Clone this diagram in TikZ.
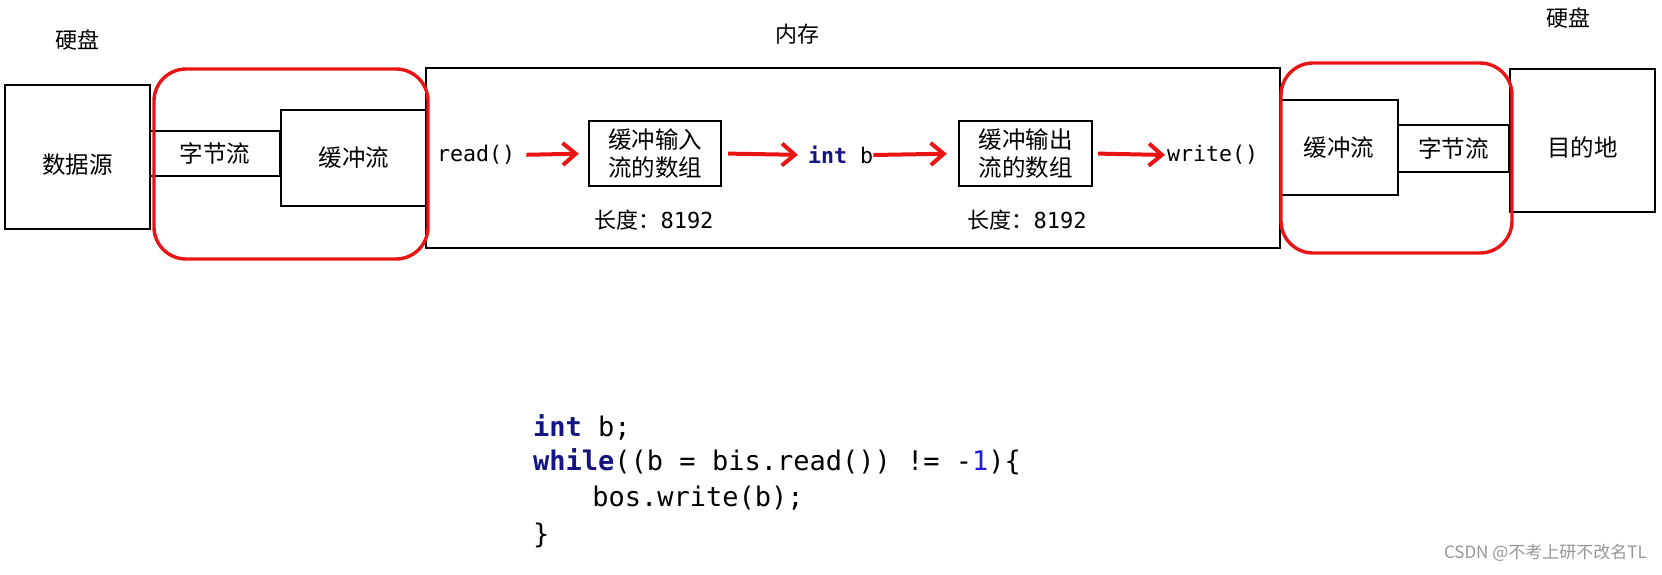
\documentclass[tikz,border=0pt]{standalone}
\usepackage{fontspec}
\setmainfont{Noto Sans CJK SC}
\newfontfamily\cjk{Noto Sans CJK SC}
\newfontfamily\mono{DejaVu Sans Mono}
\usetikzlibrary{arrows.meta}
\definecolor{rred}{RGB}{235,20,20}
\definecolor{kw}{RGB}{20,20,130}
\definecolor{num}{RGB}{30,30,220}
\definecolor{wmgray}{RGB}{150,150,150}
\begin{document}
\begin{tikzpicture}[x=1pt,y=-1pt,
  box/.style={draw=black, line width=2.3pt, inner sep=0pt, font=\cjk\fontsize{23.5}{28}\selectfont, align=center},
  grp/.style={draw=rred, line width=3.4pt, rounded corners=32pt, inner sep=0pt},
  lbl/.style={inner sep=0pt, font=\cjk\fontsize{22}{26}\selectfont},
  mtxt/.style={inner sep=0pt, anchor=west, font=\mono\fontsize{21.6}{26}\selectfont},
  codeline/.style={inner sep=0pt, anchor=west, font=\mono\fontsize{27}{36}\selectfont},
  arr/.style={draw=rred, line width=4pt, -{Straight Barb[length=13pt,width=22pt]}}
]
\useasboundingbox (0,0) rectangle (1662,574);
\fill[white] (0,0) rectangle (1662,574);

% titles
\node[lbl] (hd1) at (77,40) {硬盘};
\node[lbl] (hd2) at (1568,18) {硬盘};
\node[lbl] (memt) at (797,34) {内存};

% left side
\node[box, minimum width=145pt, minimum height=144pt] (src) at (77.5,157) {\raisebox{0pt}[34pt][2pt]{数据源}};
\node[box, minimum width=130pt, minimum height=45pt] (lbyte) at (215,153.5) {字节流};
\node[box, minimum width=146pt, minimum height=96pt] (lbuf) at (354,158) {缓冲流};

% memory
\node[draw=black, line width=2.3pt, inner sep=0pt, minimum width=854pt, minimum height=180pt] (mem) at (853,158) {};

% right side
\node[box, minimum width=118pt, minimum height=95pt] (rbuf) at (1339,147.5) {缓冲流};
\node[box, minimum width=111pt, minimum height=47pt] (rbyte) at (1453.5,148.5) {字节流};
\node[box, minimum width=145pt, minimum height=143pt] (dst) at (1582.5,140.5) {\raisebox{0pt}[34pt][2pt]{目的地}};

% inside memory
\node[mtxt] (rd) at (437,155) {read()};
\node[box, minimum width=132pt, minimum height=65pt] (inbuf) at (655,153.5) {缓冲输入\\流的数组};
\node[mtxt] (ib) at (808,155) {\textcolor{kw}{\bfseries int} b};
\node[box, minimum width=133pt, minimum height=65pt] (outbuf) at (1025.5,153.5) {缓冲输出\\流的数组};
\node[mtxt] (wr) at (1167,155) {write()};
\node[lbl] (len1) at (654,220) {\cjk 长度：\mono 8192};
\node[lbl] (len2) at (1027,220) {\cjk 长度：\mono 8192};

% red groups
\node[grp, minimum width=274pt, minimum height=190pt] (lgrp) at (291,164) {};
\node[grp, minimum width=231pt, minimum height=190pt] (rgrp) at (1396.5,158) {};

% arrows
\draw[arr, shorten <=11pt, shorten >=9pt] (rd.east) -- (inbuf.west);
\draw[arr, shorten <=6pt, shorten >=10pt] (inbuf.east) -- (ib.west);
\draw[arr, shorten <=0pt, shorten >=11pt] (ib.east) -- (outbuf.west);
\draw[arr, shorten <=5pt, shorten >=2pt] (outbuf.east) -- (wr.west);

% code
\node[codeline] (c1) at (533,427) {\textcolor{kw}{\bfseries int} b;};
\node[codeline] (c2) at (533,462) {\textcolor{kw}{\bfseries while}((b = bis.read()) != -\textcolor{num}{1})\{};
\node[codeline] (c3) at (533,498) {\hspace*{4ex}bos.write(b);};
\node[codeline] (c4) at (533,535) {\}};

% watermark
\node[inner sep=0pt, anchor=east, font=\cjk\fontsize{17}{20}\selectfont, text=wmgray] (wm) at (1647,553) {CSDN @不考上研不改名TL};
\end{tikzpicture}
\end{document}
